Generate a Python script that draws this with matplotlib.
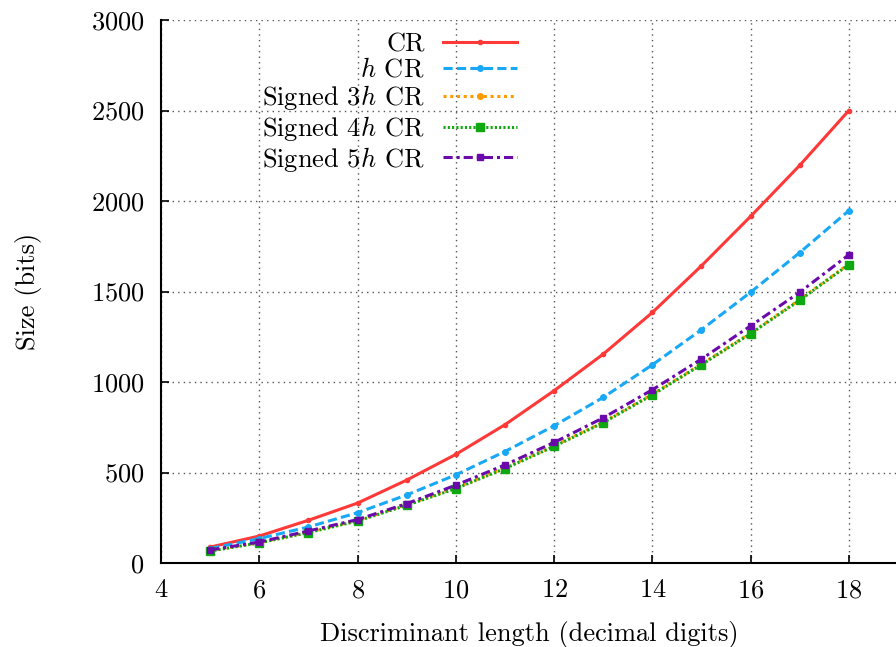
import matplotlib
matplotlib.use("Agg")
import matplotlib.pyplot as plt

plt.rcParams['font.family'] = 'cmr10'
plt.rcParams['mathtext.fontset'] = 'cm'
plt.rcParams['axes.formatter.use_mathtext'] = True
plt.rcParams['font.size'] = 19

digits = [5, 6, 7, 8, 9, 10, 11, 12, 13, 14, 15, 16, 17, 18]

cr = [88, 149, 236, 331, 458, 600, 764, 952, 1154, 1384, 1642, 1915, 2197, 2500]
h_cr = [80, 135, 199, 278, 376, 487, 616, 758, 915, 1095, 1289, 1496, 1715, 1947]
signed_3h = [68, 113, 171, 235, 322, 415, 525, 647, 778, 932, 1099, 1270, 1455, 1652]
signed_4h = [66, 111, 168, 232, 319, 411, 522, 644, 775, 929, 1096, 1267, 1452, 1649]
signed_5h = [72, 116, 177, 240, 328, 430, 542, 666, 802, 957, 1127, 1310, 1496, 1703]

series = [
    ('CR', cr, '#ff3838', '-', 'o', 3),
    ('$h$ CR', h_cr, '#18a8f5', (0, (3, 1.4)), 'o', 4),
    ('Signed $3h$ CR', signed_3h, '#ff9a00', (0, (1, 1.2)), 'o', 4),
    ('Signed $4h$ CR', signed_4h, '#10a810', (0, (0.7, 0.7)), 's', 6),
    ('Signed $5h$ CR', signed_5h, '#6a0aaa', (0, (3, 1.3, 1, 1.3)), 's', 5),
]

fig = plt.figure(figsize=(8.96, 6.47), dpi=100)
ax = fig.add_axes([161 / 896, 1 - 563 / 647, (898 - 161) / 896, (563 - 20) / 647])

for label, vals, color, ls, mk, ms in series:
    ax.plot(digits, vals, color=color, linestyle=ls, linewidth=2.2,
            marker=mk, markersize=ms, label=label)

ax.set_xlim(4, 19)
ax.set_ylim(0, 3000)
ax.set_xticks([4, 6, 8, 10, 12, 14, 16, 18])
ax.set_yticks([0, 500, 1000, 1500, 2000, 2500, 3000])
ax.grid(True, color='#555555', linestyle=(0, (1, 3)), linewidth=1)
ax.spines['top'].set_visible(False)
ax.spines['right'].set_visible(False)
ax.spines['left'].set_linewidth(1.5)
ax.spines['bottom'].set_linewidth(1.5)
ax.tick_params(direction='in', length=6, width=1.2, pad=12, labelsize=19)
ax.tick_params(axis='x', pad=11)

ax.set_xlabel('Discriminant length (decimal digits)', fontsize=19, labelpad=14)
ax.set_ylabel('Size (bits)', fontsize=19, labelpad=35)

leg = ax.legend(loc='upper right', bbox_to_anchor=(0.483, 0.977), markerfirst=False,
                frameon=False, handlelength=2.8, handletextpad=0.7,
                labelspacing=0.06, fontsize=19, borderaxespad=0, borderpad=0)

fig.savefig('out.png', dpi=100)
